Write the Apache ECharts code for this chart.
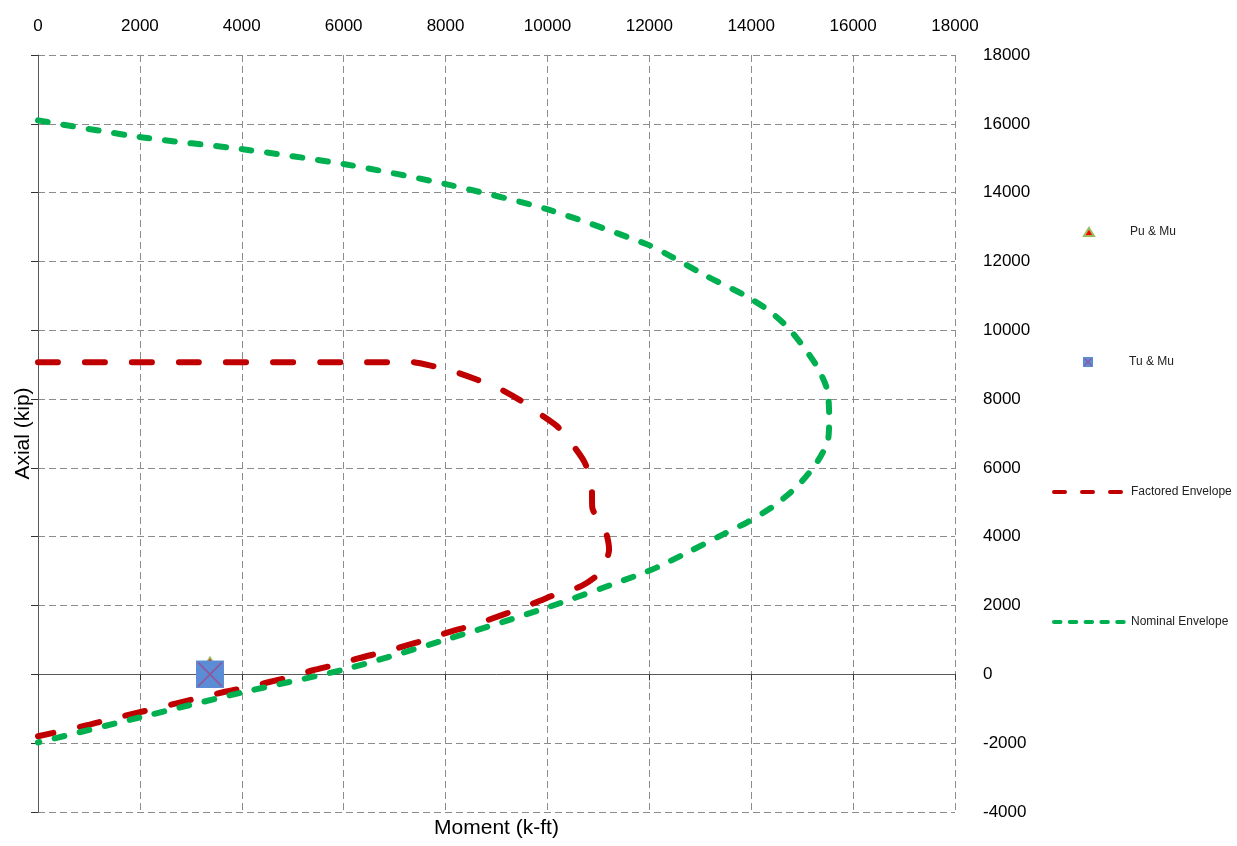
<!DOCTYPE html>
<html>
<head>
<meta charset="utf-8">
<script src="https://cdn.jsdelivr.net/npm/echarts@6/dist/echarts.min.js"></script>
<style>
html,body{margin:0;padding:0;background:#fff;}
#chart{width:1237px;height:846px;}
</style>
</head>
<body>
<div id="chart"></div>
<script>
// ---- data ----
var xTicks = [0, 2000, 4000, 6000, 8000, 10000, 12000, 14000, 16000, 18000];
var yTicks = [-4000, -2000, 0, 2000, 4000, 6000, 8000, 10000, 12000, 14000, 16000, 18000];

var puMu = [[3376, 380]];
var tuMu = [[3376, 0]];

var factoredM = [0, 7010, 7300, 7750, 8190, 8610, 9050, 9460, 9830, 10190, 10500, 10740, 10870, 10880, 11130, 11210, 11030, 10670, 10210, 9790, 9360, 8930, 8520, 8050, 7640, 7170, 6750, 6300, 5870, 5400, 4990, 4520, 4100, 3630, 1410, 960, 0];
var factoredP = [9070, 9070, 9080, 8960, 8790, 8570, 8310, 7970, 7590, 7210, 6660, 6130, 5440, 4850, 4210, 3630, 2960, 2570, 2350, 2100, 1860, 1630, 1420, 1220, 1020, 810, 640, 470, 290, 120, -60, -230, -380, -520, -1310, -1480, -1800];

var nominalM = [0, 2020, 4020, 6050, 8030, 10010, 11950, 12460, 13130, 13840, 14310, 14700, 15020, 15290, 15490, 15530, 15510, 15290, 14900, 14430, 13920, 13450, 12800, 12150, 11820, 10010, 8030, 6030, 4020, 2000, 0];
var nominalP = [16100, 15610, 15260, 14820, 14240, 13510, 12500, 12120, 11570, 11040, 10610, 10110, 9530, 8950, 8280, 7500, 6830, 6160, 5460, 4880, 4420, 4070, 3580, 3110, 2910, 1950, 1020, 150, -520, -1250, -1980];

var names = ['Pu & Mu', 'Tu & Mu', 'Factored Envelope', 'Nominal Envelope'];
var axisNames = {x: 'Moment (k-ft)', y: 'Axial (kip)'};

function pairs(a, b) { return a.map(function (v, i) { return [v, b[i]]; }); }
function plain(v) { return String(v); }

var sqSvg = "<svg xmlns='http://www.w3.org/2000/svg' width='28' height='28' viewBox='0 0 28 28'>" +
  "<rect x='0' y='0' width='28' height='28' fill='#5B8DD6'/>" +
  "<path d='M2,2L26,26M26,2L2,26' stroke='#8E5A9E' stroke-width='2' fill='none'/></svg>";
var sqSymbol = 'image://data:image/svg+xml;charset=utf-8,' + encodeURIComponent(sqSvg);
var sqSvgSmall = "<svg xmlns='http://www.w3.org/2000/svg' width='10' height='10' viewBox='0 0 10 10'>" +
  "<rect x='0' y='0' width='10' height='10' fill='#5B8DD6'/>" +
  "<path d='M1.5,1.5L8.5,8.5M8.5,1.5L1.5,8.5' stroke='#8E5A9E' stroke-width='1.3' fill='none'/></svg>";
var sqSymbolSmall = 'image://data:image/svg+xml;charset=utf-8,' + encodeURIComponent(sqSvgSmall);

var tickFont = "'Liberation Sans', Arial, sans-serif";
var textFont = "'Liberation Sans', Arial, sans-serif";
var gridStyle = {color: '#8c8c8c', width: 1, type: [7, 4]};

var chart = echarts.init(document.getElementById('chart'), null, {renderer: 'canvas'});

function legendBox(item, left, top, iw, ih, padLeft, lineStyle) {
  var o = {
    data: [item], orient: 'vertical', left: left, top: top,
    itemWidth: iw, itemHeight: ih, padding: 0, selectedMode: false,
    textStyle: {fontFamily: textFont, fontSize: 12, color: '#222', lineHeight: 14, padding: [0, 0, 0, padLeft]}
  };
  if (lineStyle) {
    o.lineStyle = lineStyle;
    o.itemStyle = {opacity: 0};
  }
  return o;
}

var option = {
  backgroundColor: '#ffffff',
  animation: false,
  grid: {left: 38, top: 55, width: 917, height: 757, containLabel: false},
  legend: [
    legendBox({name: names[0]}, 1083, 225, 10, 8, 31),
    legendBox({name: names[1], icon: sqSymbolSmall}, 1083, 355, 10, 10, 31),
    legendBox({name: names[2]}, 1052, 485, 70, 8, 2, {width: 4, type: [11, 17], cap: 'round', color: '#C00000'}),
    legendBox({name: names[3]}, 1052, 615, 70, 8, 2, {width: 4, type: [6.5, 9.3], cap: 'round', color: '#00B050'})
  ],
  xAxis: [
    {
      type: 'value', position: 'top', min: xTicks[0], max: xTicks[xTicks.length - 1], interval: 2000,
      axisLine: {show: false}, axisTick: {show: false},
      axisLabel: {fontFamily: tickFont, fontSize: 17, color: '#000', margin: 20, formatter: plain},
      splitLine: {show: true, lineStyle: gridStyle}
    },
    {
      type: 'value', position: 'bottom', min: xTicks[0], max: xTicks[xTicks.length - 1], interval: 2000,
      axisLine: {show: true, onZero: true, onZeroAxisIndex: 0, lineStyle: {color: '#595959', width: 1}},
      axisTick: {show: true, length: 6, lineStyle: {color: '#333'}},
      axisLabel: {show: false}, splitLine: {show: false}
    },
    {
      type: 'value', position: 'bottom', min: xTicks[0], max: xTicks[xTicks.length - 1],
      axisLine: {show: false, onZero: false}, axisTick: {show: false}, axisLabel: {show: false}, splitLine: {show: false},
      name: axisNames.x, nameLocation: 'middle', nameGap: 6,
      nameTextStyle: {fontFamily: textFont, fontSize: 21, color: '#000', verticalAlign: 'top'}
    }
  ],
  yAxis: [
    {
      type: 'value', position: 'right', min: yTicks[0], max: yTicks[yTicks.length - 1], interval: 2000,
      axisLine: {show: false}, axisTick: {show: false},
      axisLabel: {fontFamily: tickFont, fontSize: 17, color: '#000', margin: 28, formatter: plain},
      splitLine: {show: true, lineStyle: gridStyle}
    },
    {
      type: 'value', position: 'left', min: yTicks[0], max: yTicks[yTicks.length - 1], interval: 2000,
      axisLine: {show: true, onZero: false, lineStyle: {color: '#595959', width: 1}},
      axisTick: {show: true, length: 7, lineStyle: {color: '#333'}},
      axisLabel: {show: false}, splitLine: {show: false},
      name: axisNames.y, nameLocation: 'middle', nameGap: 4,
      nameTextStyle: {fontFamily: textFont, fontSize: 21, color: '#000'}
    }
  ],
  series: [
    {
      name: names[2], type: 'line', xAxisIndex: 0, yAxisIndex: 0,
      data: pairs(factoredM, factoredP), symbol: 'none', smooth: 0.25, z: 3,
      itemStyle: {color: '#C00000'},
      lineStyle: {color: '#C00000', width: 6, type: [20, 27], cap: 'round', join: 'round'}
    },
    {
      name: names[3], type: 'line', xAxisIndex: 0, yAxisIndex: 0,
      data: pairs(nominalM, nominalP), symbol: 'none', smooth: 0.25, z: 3,
      itemStyle: {color: '#00B050'},
      lineStyle: {color: '#00B050', width: 6, type: [10, 15.7], cap: 'round', join: 'round'}
    },
    {
      name: names[0], type: 'scatter', xAxisIndex: 0, yAxisIndex: 0,
      data: puMu, symbol: 'triangle', symbolSize: [10, 8], z: 4,
      itemStyle: {color: '#FF0000', borderColor: '#9BBB59', borderWidth: 1.5, opacity: 1}
    },
    {
      name: names[1], type: 'scatter', xAxisIndex: 0, yAxisIndex: 0,
      data: tuMu, symbol: sqSymbol, symbolSize: 28, z: 5,
      itemStyle: {color: '#5B8DD6', opacity: 1}
    }
  ]
};
chart.setOption(option);
</script>
</body>
</html>
